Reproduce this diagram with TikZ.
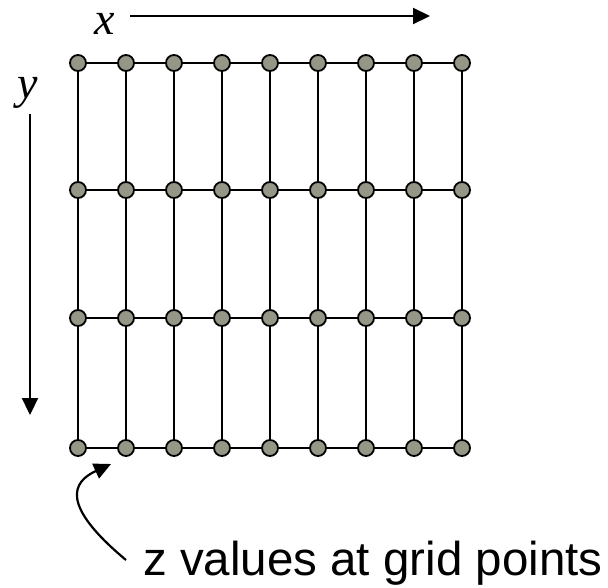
\documentclass[tikz,border=0pt]{standalone}
\usepackage{fontspec}
\setmainfont{Liberation Sans}
\newfontfamily\serifit{Liberation Serif}
\usetikzlibrary{arrows.meta,backgrounds}
\definecolor{dotgray}{RGB}{150,150,135}
\tikzset{
  gp/.style={circle,draw=black,line width=1.8pt,fill=dotgray,minimum size=16pt,inner sep=0pt},
  gline/.style={line width=1.8pt,black},
  axarrow/.style={line width=2.2pt,-{Triangle[length=17pt,width=16pt]}},
  axlabel/.style={font=\serifit\itshape\fontsize{46pt}{46pt}\selectfont,inner sep=0pt},
  note/.style={font=\fontsize{47.5pt}{47.5pt}\selectfont,inner sep=0pt,anchor=base west}
}
\begin{document}
\begin{tikzpicture}[x=1pt,y=-1pt]
\useasboundingbox (0,0) rectangle (608,587);
% grid points
\foreach \i in {0,...,8}{
  \foreach \j/\yy in {0/63,1/190,2/318,3/448}{
    \node[gp] (n-\i-\j) at ({78+48*\i},\yy) {};
  }
}
\begin{scope}[on background layer]
  \foreach \i in {0,...,8}{
    \draw[gline] (n-\i-0) -- (n-\i-1) -- (n-\i-2) -- (n-\i-3);
  }
  \foreach \j in {0,...,3}{
    \draw[gline] (n-0-\j) -- (n-1-\j) -- (n-2-\j) -- (n-3-\j) -- (n-4-\j)
      -- (n-5-\j) -- (n-6-\j) -- (n-7-\j) -- (n-8-\j);
  }
\end{scope}
% axes
\node[axlabel] (xl) at (105,24) {x};
\coordinate (xa) at (130,16);
\coordinate (xb) at (430,16);
\draw[axarrow] (xa) -- (xb);
\node[axlabel] (yl) at (28,93) {y};
\coordinate (ya) at (30,114);
\coordinate (yb) at (30,415);
\draw[axarrow] (ya) -- (yb);
% note
\node[note] (txt) at (143,575) {z values at grid points};
\coordinate (ca) at (126,560);
\coordinate (cb) at (111,464);
\draw[axarrow] (ca) .. controls (60,505) and (72,482) .. (cb);
\end{tikzpicture}
\end{document}
